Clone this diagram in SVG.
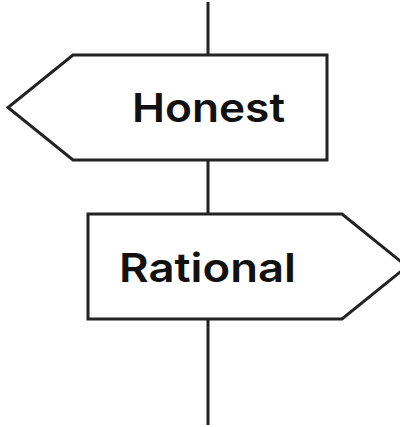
<svg xmlns="http://www.w3.org/2000/svg" width="400" height="427" viewBox="0 0 400 427">
<style>
.s{fill:#fff;stroke:#232323;stroke-width:3;stroke-linejoin:miter}
.t{font-family:Inter,"Noto Sans",sans-serif;font-weight:600;font-size:40px;fill:#111}
</style>
<rect width="400" height="427" fill="#fff"/>
<g id="connectors">
<line x1="208" y1="2" x2="208" y2="425" stroke="#232323" stroke-width="3"/>
</g>
<g id="honest">
<polygon class="s" points="73,55 327,55 327,160 73,160 8,107.5"/>
<text class="t" x="132" y="122" textLength="153" lengthAdjust="spacingAndGlyphs">Honest</text>
</g>
<g id="rational">
<polygon class="s" points="88,214 342,214 407,266.5 342,319 88,319"/>
<text class="t" x="119" y="282" textLength="177" lengthAdjust="spacingAndGlyphs">Rational</text>
</g>
</svg>
